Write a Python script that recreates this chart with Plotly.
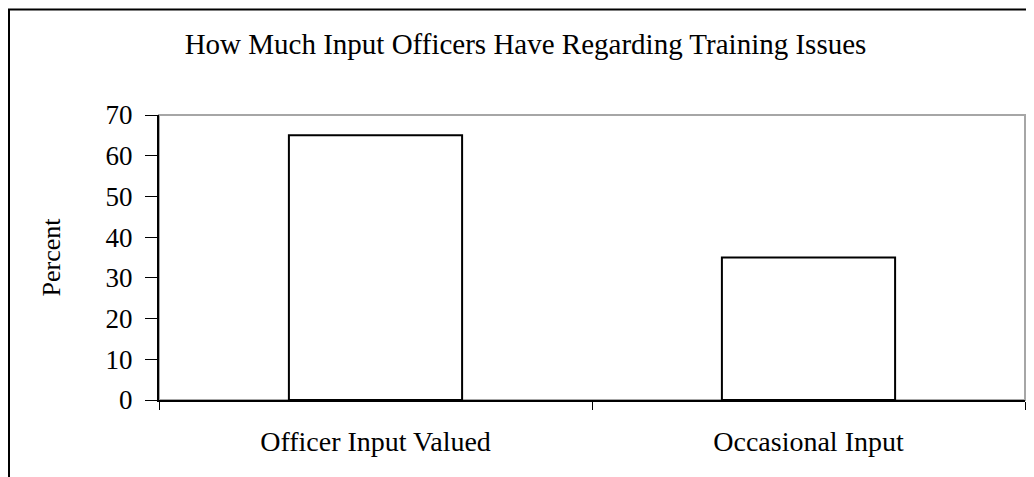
import plotly.graph_objects as go

categories = ["Officer Input Valued", "Occasional Input"]
percent = [65, 35]
y_ticks = [0, 10, 20, 30, 40, 50, 60, 70]

title_text = "How Much Input Officers Have Regarding Training Issues"
y_title = "Percent"

# The page body adds an 8px offset; the figure's own edge forms the chart border.
W, H = 1034, 477
L, R, T, B = 151, 17, 107, 85
font_family = "Liberation Serif, Times New Roman, serif"

fig = go.Figure()
fig.add_trace(go.Bar(
    x=categories,
    y=percent,
    marker=dict(color="white", line=dict(color="black", width=2)),
    width=0.4,
    showlegend=False,
))

# plot-area frame (gray top/right)
fig.add_shape(type="rect", xref="paper", yref="paper", x0=0, x1=1, y0=0, y1=1,
              line=dict(color="#a6a6a6", width=2), layer="below")

# outer chart border (left and top visible, right/bottom cropped)
px = lambda v: (v - L) / (W - L - R)
py = lambda v: 1 - (v - T) / (H - T - B)
fig.add_shape(type="line", xref="paper", yref="paper",
              x0=px(1), x1=px(1), y0=py(1.5), y1=py(500),
              line=dict(color="black", width=2))
fig.add_shape(type="line", xref="paper", yref="paper",
              x0=px(0), x1=px(1100), y0=py(1.5), y1=py(1.5),
              line=dict(color="black", width=2))

fig.update_layout(
    width=W, height=H,
    margin=dict(l=L, r=R, t=T, b=B, autoexpand=False),
    paper_bgcolor="white", plot_bgcolor="white",
    font=dict(family=font_family, color="black"),
    title=dict(text=title_text, x=px(517.5), xref="paper", xanchor="center",
               y=1 - 36 / H, yref="container", yanchor="middle",
               font=dict(size=29, family=font_family, color="black")),
    bargap=0.6,
)
fig.update_xaxes(
    type="category", tickson="boundaries", ticks="outside", ticklen=8,
    tickwidth=1, tickcolor="black",
    showline=True, linecolor="black", linewidth=2,
    showgrid=False, zeroline=False,
    tickfont=dict(size=28, family=font_family, color="black"),
    ticklabelstandoff=15,
    automargin=False,
)
fig.update_yaxes(
    range=[0, 70], tickvals=y_ticks, ticktext=[str(v) for v in y_ticks],
    ticks="outside", ticklen=12, tickwidth=1, tickcolor="black",
    showline=True, linecolor="black", linewidth=2,
    showgrid=False, zeroline=False,
    tickfont=dict(size=27, family=font_family, color="black"),
    ticklabelstandoff=7,
    title=dict(text=y_title, font=dict(size=26, family=font_family, color="black"), standoff=37),
    automargin=False,
)

fig.write_html("out.html")
